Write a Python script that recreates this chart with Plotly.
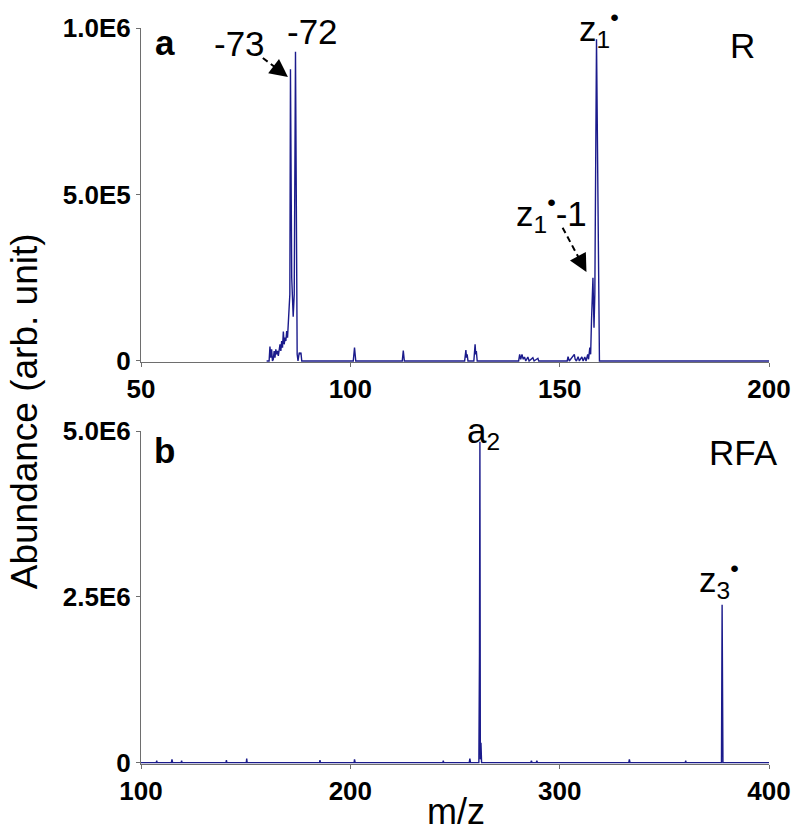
import plotly.graph_objects as go

# panel a: R
mz_top = [80.0, 80.6, 80.8, 81.0, 81.2, 81.4, 81.6, 81.8, 82.0, 82.2, 82.4, 82.6, 82.8, 83.0,
          83.2, 83.4, 83.6, 83.8, 84.0, 84.2, 84.4, 84.6, 84.8, 85.0, 85.2, 85.4, 85.55, 85.7,
          86.0, 86.35, 86.6, 86.9, 87.1, 87.3, 87.5, 87.8, 88.0, 88.2, 88.4,
          100.7, 101.0, 101.3, 112.4, 112.65, 112.9,
          127.3, 127.6, 127.75, 127.9, 128.1, 129.5, 129.8, 129.95, 130.1, 130.3,
          140.2, 140.45, 140.7, 141.0, 141.3, 141.6, 141.9, 142.4, 142.7, 143.6, 143.9, 144.8, 145.0,
          151.8, 152.0, 152.3, 153.5, 153.7, 154.0, 154.4, 154.7, 155.3, 155.6, 156.0, 156.3,
          156.7, 156.9, 157.2, 157.4, 157.6, 157.95, 158.2, 158.4, 158.8, 159.2, 159.5, 200.0]
ab_top = [0, 0, 0.043, 0.01, 0.035, 0.0, 0.005, 0.03, 0.01, 0.035, 0.02, 0.03, 0.015, 0.04,
          0.05, 0.03, 0.06, 0.04, 0.088, 0.05, 0.07, 0.06, 0.09, 0.07, 0.114, 0.16, 0.2, 0.876,
          0.25, 0.133, 0.2, 0.929, 0.3, 0.02, 0.0, 0.025, 0.02, 0.025, 0.0,
          0, 0.04, 0, 0, 0.031, 0,
          0, 0.033, 0.01, 0.02, 0, 0, 0.05, 0.02, 0.03, 0,
          0, 0.02, 0.005, 0.02, 0.005, 0.012, 0.0, 0.012, 0.0, 0.01, 0.0, 0.008, 0,
          0, 0.013, 0, 0.02, 0.005, 0.0, 0.013, 0.0, 0.012, 0.0, 0.012, 0.0,
          0.02, 0.005, 0.04, 0.02, 0.12, 0.25, 0.1, 0.2, 0.966, 0.29, 0, 0]
ab_top = [v * 1e6 for v in ab_top]

# panel b: RFA
mz_bot = [100.0, 107.3, 107.5, 107.7, 114.5, 114.8, 115.1, 119.2, 119.4, 119.6,
          140.6, 140.8, 141.0, 150.3, 150.5, 150.7, 185.3, 185.5, 185.7, 201.8, 202.0, 202.3,
          244.2, 244.4, 244.6, 256.8, 257.1, 257.4,
          261.4, 261.7, 261.9, 262.1, 262.4, 262.7,
          286.2, 286.5, 286.8, 288.8, 289.1, 289.4, 333.0, 333.3, 333.6, 360.0, 360.2, 360.4,
          377.3, 377.6, 377.75, 378.0, 400.0]
ab_bot = [0, 0, 0.03, 0, 0, 0.05, 0, 0, 0.03, 0,
          0, 0.04, 0, 0, 0.06, 0, 0, 0.04, 0, 0, 0.05, 0,
          0, 0.03, 0, 0, 0.06, 0,
          0, 1.65, 4.84, 0.05, 0.3, 0,
          0, 0.03, 0, 0, 0.03, 0, 0, 0.05, 0, 0, 0.03, 0,
          0, 2.38, 1.85, 0, 0]
ab_bot = [v * 1e6 for v in ab_bot]

xticks_top = [50, 100, 150, 200]
xticks_bot = [100, 200, 300, 400]
yticks_top = [0, 5e5, 1e6]
ylabels_top = ["0", "5.0E5", "1.0E6"]
yticks_bot = [0, 2.5e6, 5e6]
ylabels_bot = ["0", "2.5E6", "5.0E6"]

LINE = "#1b1b8c"
FONT = "Liberation Sans, Arial, sans-serif"

fig = go.Figure()
fig.add_trace(go.Scatter(x=mz_top, y=ab_top, mode="lines", line=dict(color=LINE, width=1.4),
                         xaxis="x", yaxis="y"))
fig.add_trace(go.Scatter(x=mz_bot, y=ab_bot, mode="lines", line=dict(color=LINE, width=1.4),
                         xaxis="x2", yaxis="y2"))

axis_style = dict(showline=True, linecolor="#6e6e6e", linewidth=1, ticks="outside", ticklen=4,
                  tickcolor="#6e6e6e", showgrid=False, zeroline=False, layer="below traces",
                  automargin=False,
                  tickfont=dict(family=FONT, size=26, color="black", weight="bold"))

# page body has an 8px margin, so the figure is 8px smaller than the window
fig.update_layout(
    width=784, height=819,
    margin=dict(l=133, r=23, t=20, b=63),
    paper_bgcolor="white", plot_bgcolor="white",
    showlegend=False,
    xaxis=dict(domain=[0, 1], anchor="y", range=[50, 200], tickvals=xticks_top, **axis_style),
    yaxis=dict(domain=[0.5458, 1.0], anchor="x", range=[-4000, 1e6],
               tickvals=yticks_top, ticktext=ylabels_top, **axis_style),
    xaxis2=dict(domain=[0, 1], anchor="y2", range=[100, 400], tickvals=xticks_bot, **axis_style),
    yaxis2=dict(domain=[0, 0.4524], anchor="x2", range=[-20000, 5e6],
                tickvals=yticks_bot, ticktext=ylabels_bot, **axis_style),
)

lab = dict(family=FONT, size=35, color="black")
bold = dict(family=FONT, size=35, color="black", weight="bold")

notes = [
    ("x", "y", 55.7, 0.955e6, "a", bold),
    ("x", "y", 73.6, 0.952e6, "-73", lab),
    ("x", "y", 91.0, 0.991e6, "-72", lab),
    ("x", "y", 159.5, 1.0e6, "z<sub>1</sub><sup>•</sup>", lab),
    ("x", "y", 193.7, 0.946e6, "R", lab),
    ("x", "y", 148.1, 0.444e6, "z<sub>1</sub><sup>•</sup>-1", lab),
    ("x2", "y2", 111.0, 4.71e6, "b", bold),
    ("x2", "y2", 263.4, 4.97e6, "a<sub>2</sub>", lab),
    ("x2", "y2", 387.6, 4.68e6, "RFA", lab),
    ("x2", "y2", 376.2, 2.756e6, "z<sub>3</sub><sup>•</sup>", lab),
]
for xr, yr, x, y, t, f in notes:
    fig.add_annotation(xref=xr, yref=yr, x=x, y=y, text=t, showarrow=False, font=f,
                       xanchor="center", yanchor="middle")

# dashed arrows: (tail, tip)
arrows = [((79.1, 0.91e6), (85.1, 0.853e6)),
          ((150.7, 0.40e6), (156.4, 0.267e6))]
for (x0, y0), (x1, y1) in arrows:
    fig.add_shape(type="line", xref="x", yref="y", x0=x0, y0=y0,
                  x1=x0 + 0.8 * (x1 - x0), y1=y0 + 0.8 * (y1 - y0),
                  line=dict(color="black", width=2, dash="6px,4px"))
    fig.add_annotation(xref="x", yref="y", axref="x", ayref="y", x=x1, y=y1,
                       ax=x0 + 0.75 * (x1 - x0), ay=y0 + 0.75 * (y1 - y0),
                       text="", showarrow=True, arrowhead=2, arrowsize=1.8,
                       arrowwidth=2, arrowcolor="black")

# shared labels
fig.add_annotation(xref="paper", yref="paper", x=-0.185, y=0.479, text="Abundance (arb. unit)",
                   textangle=-90, showarrow=False, font=dict(family=FONT, size=37, color="black"),
                   xanchor="center", yanchor="middle")
fig.add_annotation(xref="paper", yref="paper", x=0.5016, y=-0.064, text="m/z",
                   showarrow=False, font=dict(family=FONT, size=36, color="black"),
                   xanchor="center", yanchor="middle")

fig.write_html("out.html")
